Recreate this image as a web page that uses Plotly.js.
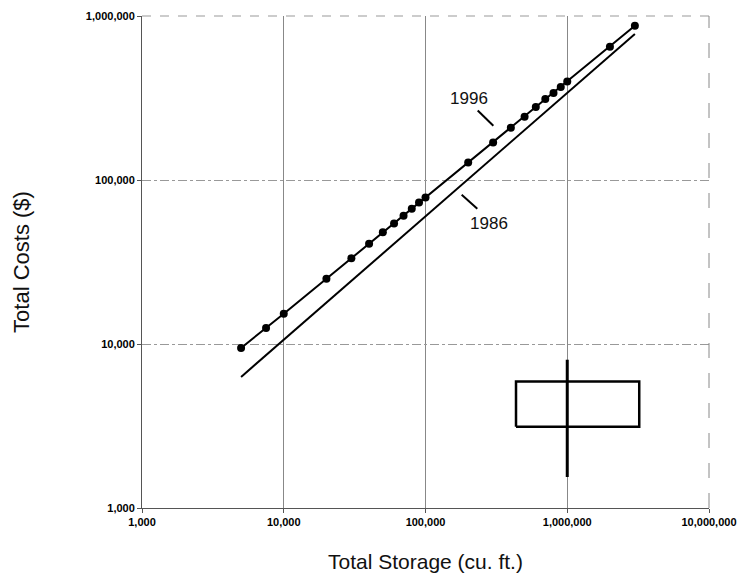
<!DOCTYPE html>
<html>
<head>
<meta charset="utf-8">
<script src="https://cdn.plot.ly/plotly-3.0.1.min.js"></script>
<style>html,body{margin:0;padding:0;background:#fff;}#chart{width:739px;height:581px;}</style>
</head>
<body>
<div id="chart"></div>
<script>
// 1996 cost curve points (Total Storage cu. ft. vs Total Costs $)
const storage1996 = [5000, 7500, 10000, 20000, 30000, 40000, 50000, 60000, 70000, 80000, 90000, 100000, 200000, 300000, 400000, 500000, 600000, 700000, 800000, 900000, 1000000, 2000000, 3000000];
const costs1996 = [9460, 12500, 15300, 25000, 33300, 40900, 48000, 54200, 60600, 66800, 73000, 78300, 128000, 169500, 208400, 243000, 278800, 311700, 339000, 368600, 399000, 650000, 873000];
// 1986 line end points
const storage1986 = [5000, 3000000];
const costs1986 = [6300, 776000];
// Range box (storage range x cost range) and whisker
const boxStorage = [435000, 3220000, 3220000, 435000, 435000];
const boxCosts = [3130, 3130, 5900, 5900, 3130];
const whiskerStorage = [1000000, 1000000];
const whiskerCosts = [1545, 8020];
// Curve labels and leader lines
const labelText = ["1996", "1986"];
const labelStorage = [202800, 280500];
const labelCosts = [309000, 53400];
const leader1996Storage = [233500, 301000];
const leader1996Costs = [265000, 214400];
const leader1986Storage = [180000, 232000];
const leader1986Costs = [81300, 66800];
// Tick labels
const tickVals = [1000, 10000, 100000, 1000000, 10000000];
const xTickText = ["1,000", "10,000", "100,000", "1,000,000", "10,000,000"];
const yTickVals = [1000, 10000, 100000, 1000000];
const yTickText = ["1,000", "10,000", "100,000", "1,000,000"];

const FONT = "Arial, 'Liberation Sans', sans-serif";
const traces = [
  {x: storage1986, y: costs1986, mode: 'lines', line: {color: '#000', width: 2}, hoverinfo: 'none'},
  {x: storage1996, y: costs1996, mode: 'lines+markers', line: {color: '#000', width: 2},
   marker: {color: '#000', size: 8}, hoverinfo: 'none'},
  {x: boxStorage, y: boxCosts, mode: 'lines', line: {color: '#000', width: 2.5}, hoverinfo: 'none'},
  {x: whiskerStorage, y: whiskerCosts, mode: 'lines', line: {color: '#000', width: 3}, hoverinfo: 'none'},
  {x: leader1996Storage, y: leader1996Costs, mode: 'lines', line: {color: '#000', width: 2}, hoverinfo: 'none'},
  {x: leader1986Storage, y: leader1986Costs, mode: 'lines', line: {color: '#000', width: 2}, hoverinfo: 'none'},
  {x: labelStorage, y: labelCosts, mode: 'text', text: labelText, textposition: 'middle center',
   textfont: {family: FONT, size: 17, color: '#111'}, hoverinfo: 'none'}
];

const layout = {
  width: 739, height: 581,
  margin: {l: 142, r: 30, t: 16, b: 73},
  paper_bgcolor: '#fff', plot_bgcolor: '#fff',
  showlegend: false,
  font: {family: FONT, color: '#000'},
  xaxis: {
    type: 'log', range: [3, 7],
    tickvals: tickVals, ticktext: xTickText,
    tickfont: {family: FONT, size: 11, weight: 'bold', color: '#000'},
    ticks: 'outside', ticklen: 4, tickcolor: '#555',
    showline: true, linecolor: '#555', linewidth: 1,
    showgrid: true, gridcolor: '#888', gridwidth: 1,
    zeroline: false,
    title: {text: 'Total Storage (cu. ft.)', font: {family: FONT, size: 21, color: '#111'}, standoff: 27}
  },
  yaxis: {
    type: 'log', range: [3, 6],
    tickvals: yTickVals, ticktext: yTickText,
    tickfont: {family: FONT, size: 11, weight: 'bold', color: '#000'},
    ticks: 'outside', ticklen: 4, tickcolor: '#555',
    showline: true, linecolor: '#555', linewidth: 1,
    showgrid: true, gridcolor: '#999', gridwidth: 1, griddash: 'dashdot',
    zeroline: false,
    title: {text: 'Total Costs ($)', font: {family: FONT, size: 22, color: '#111'}, standoff: 50}
  },
  shapes: [
    {type: 'line', xref: 'paper', yref: 'paper', x0: 0, x1: 1, y0: 1, y1: 1,
     line: {color: '#999', width: 1, dash: 'dash'}},
    {type: 'line', xref: 'paper', yref: 'paper', x0: 1, x1: 1, y0: 0, y1: 1,
     line: {color: '#888', width: 1, dash: 'longdash'}}
  ]
};

Plotly.newPlot('chart', traces, layout, {staticPlot: true, displayModeBar: false});
</script>
</body>
</html>
